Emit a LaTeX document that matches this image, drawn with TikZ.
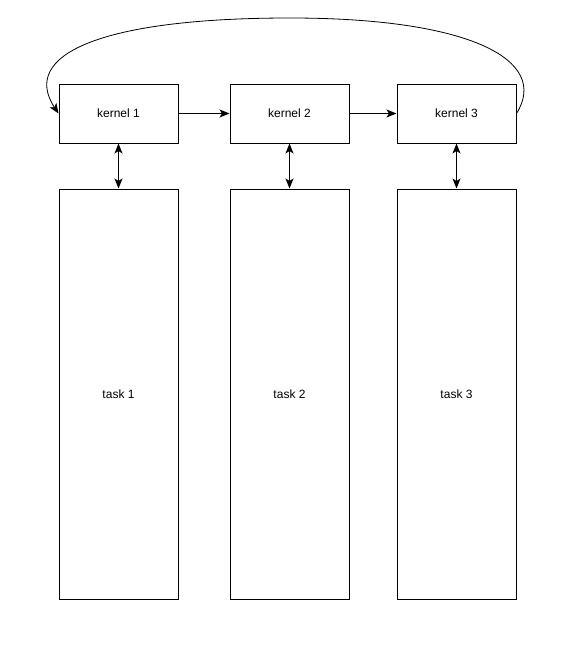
\documentclass[tikz,border=0pt]{standalone}
\usepackage{fontspec}
\setmainfont{Liberation Sans}
\usetikzlibrary{arrows.meta}
\begin{document}
\begin{tikzpicture}[x=1pt,y=-1pt,
  box/.style={draw, line width=1pt, minimum width=119pt, minimum height=59pt, inner sep=0pt, font=\fontsize{12}{14}\selectfont},
  taskbox/.style={box, minimum height=410pt},
  tip/.style={Stealth[length=10pt,width=8pt,inset=2.5pt]},
  conn/.style={line width=1pt, -{Stealth[length=10pt,width=8pt,inset=2.5pt]}},
  bconn/.style={line width=1pt, {Stealth[length=10pt,width=8pt,inset=2.5pt]}-{Stealth[length=10pt,width=8pt,inset=2.5pt]}}]
\useasboundingbox (0,0) rectangle (570,661);
\node[box] (k1) at (118.5,113.5) {kernel 1};
\node[box] (k2) at (289.5,113.5) {kernel 2};
\node[box] (k3) at (456.5,113.5) {kernel 3};
\node[taskbox] (t1) at (118.5,394) {task 1};
\node[taskbox] (t2) at (289.5,394) {task 2};
\node[taskbox] (t3) at (456.5,394) {task 3};
\draw[conn] (k1) -- (k2);
\draw[conn] (k2) -- (k3);
\draw[bconn] (k1) -- (t1);
\draw[bconn] (k2) -- (t2);
\draw[bconn] (k3) -- (t3);
\coordinate (top) at (290,18);
\draw[line width=0.8pt, -{Stealth[length=10pt,width=8pt,inset=2.5pt]}] (k3.east) .. controls (550,60) and (470,18) .. (top) .. controls (100,18) and (20,55) .. (k1.west);
\end{tikzpicture}
\end{document}
